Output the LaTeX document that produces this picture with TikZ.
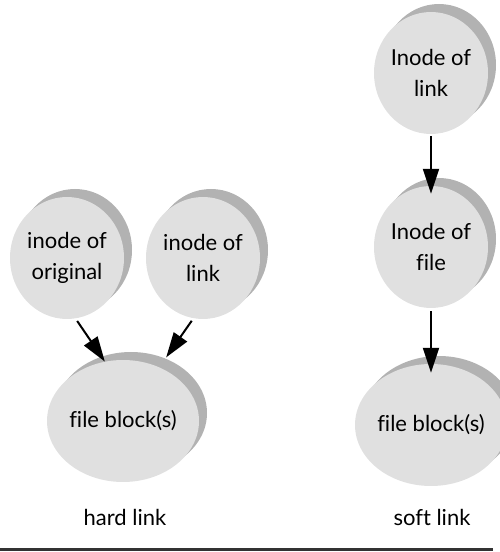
\documentclass[tikz,border=0pt]{standalone}
\usepackage{fontspec}
\setmainfont{Lato}[Ligatures=CommonOff]
\usetikzlibrary{arrows.meta, shapes.geometric, shadows}

\begin{document}
\begin{tikzpicture}[x=1pt, y=1pt, font=\fontsize{22}{31}\selectfont,
    disc/.style={ellipse, minimum width=114pt, minimum height=122pt, inner sep=0pt,
        align=center, fill=black!12, draw=none,
        copy shadow={shadow xshift=8pt, shadow yshift=8pt, fill=black!30, draw=none}},
    arr/.style={-{Triangle[length=25pt, width=16pt]}, line width=2pt, black},
    linklabel/.style={anchor=base}]

    % --- 1. Canvas ---
    \useasboundingbox (0,0) rectangle (500,552);

    \def\hardX{123} % x of the hard link column (block)
    \def\softX{431} % x of the soft link column

    % --- 2. Hard link ---
    \node[disc] (orig)   at (67,294)     {inode of\\original};
    \node[disc] (hlink)  at (203,294)    {inode of\\link};
    \node[disc] (hblock) at (\hardX,131) {file block(s)};

    \draw[arr, shorten <=3pt] (orig.-82) -- (hblock.107);
    \draw[arr, shorten <=3pt, shorten >=12pt] (hlink.-99) -- (hblock.56);

    % --- 3. Soft link ---
    \node[disc] (slink)  at (\softX,479) {Inode of\\link};
    \node[disc] (sfile)  at (\softX,305) {Inode of\\file};
    \node[disc] (sblock) at (\softX,127) {file block(s)};

    \draw[arr, shorten <=2pt, shorten >=-8pt] (slink.south) -- (sfile.north);
    \draw[arr, shorten <=3pt, shorten >=-9pt] (sfile.south) -- (sblock.north);

    % --- 4. Labels and rule ---
    \node[linklabel] (hardlbl) at (\hardX+2,27) {hard link};
    \node[linklabel] (softlbl) at (\softX+1,27) {soft link};

    \draw[line width=3pt, black!80] (0,2.5) -- (493,2.5);

\end{tikzpicture}
\end{document}
